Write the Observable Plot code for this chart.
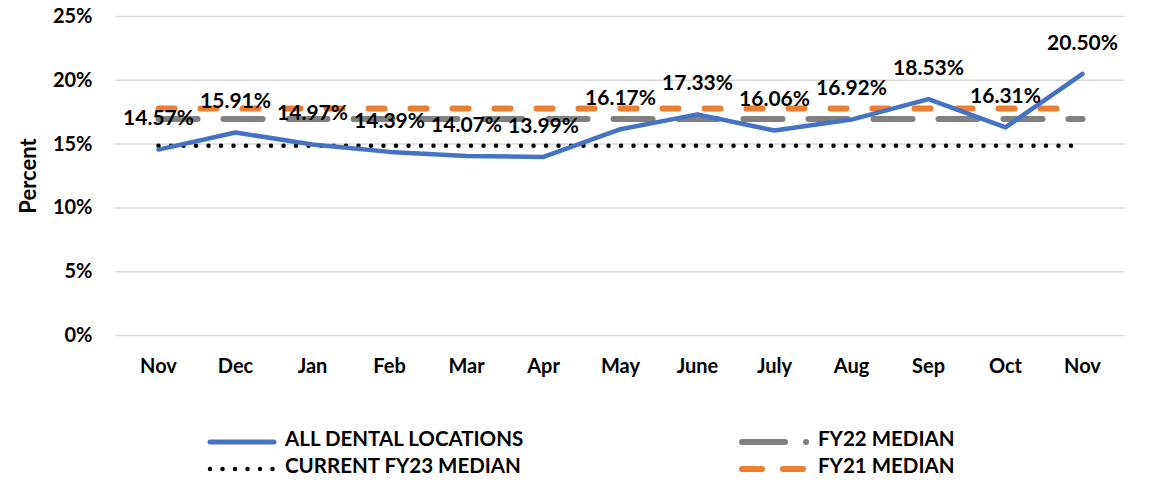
<!DOCTYPE html>
<html><head><meta charset="utf-8">
<script src="https://cdn.jsdelivr.net/npm/d3@7"></script>
<script src="https://cdn.jsdelivr.net/npm/@observablehq/plot@0.6"></script>
<style>
body{margin:0;background:#fff;font-family:Lato, sans-serif;}
#legend{position:relative;width:1158px;height:80px;}
.sample{position:absolute;}
.ltext{position:absolute;font-weight:700;font-size:20.5px;line-height:24px;color:#000;white-space:nowrap;}
</style></head><body>
<div id="chart"></div>
<div id="legend"></div>
<script>
const months = ["Nov","Dec","Jan","Feb","Mar","Apr","May","June","July","Aug","Sep","Oct","Nov"];
const allDental = [14.57, 15.91, 14.97, 14.39, 14.07, 13.99, 16.17, 17.33, 16.06, 16.92, 18.53, 16.31, 20.50];
const fy23Median = 14.87;
const fy22Median = 16.97;
const fy21Median = 17.79;
const yTicks = [0, 5, 10, 15, 20, 25];
const seriesNames = ["ALL DENTAL LOCATIONS", "CURRENT FY23 MEDIAN", "FY22 MEDIAN", "FY21 MEDIAN"];
const colors = {blue:"#4472C4", black:"#000000", gray:"#808080", orange:"#ED7D31"};

const idx = months.map((_, i) => i);
const data = allDental.map((v, i) => ({i, v}));
const medLine = m => [{i: 0, v: m}, {i: months.length - 1, v: m}];

const chart = Plot.plot({
  width: 1158, height: 400,
  marginTop: 16, marginBottom: 65, marginLeft: 115, marginRight: 34,
  style: {fontFamily: "Lato, sans-serif", fontWeight: 700, fontSize: "20px", color: "#000", background: "#fff", overflow: "visible"},
  x: {type: "point", domain: idx, padding: 0.5, axis: null},
  y: {domain: [0, 25], axis: null},
  marks: [
    Plot.gridY(yTicks, {stroke: "#d9d9d9", strokeWidth: 1.5, strokeOpacity: 1}),
    Plot.axisY({ticks: yTicks, tickSize: 0, tickPadding: 23, tickFormat: d => d + "%", label: null, fontSize: 20, fontWeight: 700}),
    Plot.axisX({ticks: idx, tickSize: 0, tickPadding: 23, tickFormat: i => months[i], label: null, fontSize: 20, fontWeight: 700}),
    Plot.text(["Percent"], {frameAnchor: "left", dx: -87, rotate: -90, fontSize: 22, fontWeight: 700, textAnchor: "middle", fill: "#000"}),
    Plot.lineY(medLine(fy23Median), {x: "i", y: "v", stroke: colors.black, strokeWidth: 4.5, strokeDasharray: "0,12.5", strokeLinecap: "round"}),
    Plot.lineY(medLine(fy22Median), {x: "i", y: "v", stroke: colors.gray, strokeWidth: 6, strokeDasharray: "39,26", strokeLinecap: "round"}),
    Plot.lineY(medLine(fy21Median), {x: "i", y: "v", stroke: colors.orange, strokeWidth: 6, strokeDasharray: "16,26", strokeLinecap: "round"}),
    Plot.lineY(data, {x: "i", y: "v", stroke: colors.blue, strokeWidth: 4.5, strokeLinejoin: "round", strokeLinecap: "round"}),
    Plot.text(data, {x: "i", y: "v", text: d => d.v.toFixed(2) + "%", dy: -31, fontSize: 21, fontWeight: 700, fill: "#000"})
  ]
});
document.getElementById("chart").appendChild(chart);

// Legend
const legend = document.getElementById("legend");
const items = [
  {name: seriesNames[0], left: 207, top: 38, svg: `<line x1="3" y1="6" x2="67" y2="6" stroke="${colors.blue}" stroke-width="5" stroke-linecap="round"/>`},
  {name: seriesNames[1], left: 207, top: 65, svg: `<line x1="3" y1="6" x2="67" y2="6" stroke="${colors.black}" stroke-width="4.5" stroke-dasharray="0,12.5" stroke-linecap="round"/>`},
  {name: seriesNames[2], left: 739, top: 38, svg: `<line x1="3" y1="6" x2="70" y2="6" stroke="${colors.gray}" stroke-width="6" stroke-dasharray="43,21,0,100" stroke-linecap="round"/>`},
  {name: seriesNames[3], left: 739, top: 65, svg: `<line x1="3" y1="6" x2="70" y2="6" stroke="${colors.orange}" stroke-width="6" stroke-dasharray="20,21" stroke-linecap="round"/>`}
];
items.forEach((it, k) => {
  const s = document.createElement("div");
  s.className = "sample";
  s.style.left = it.left + "px";
  s.style.top = (it.top - 6) + "px";
  s.innerHTML = `<svg width="74" height="12">${it.svg}</svg>`;
  legend.appendChild(s);
  const t = document.createElement("div");
  t.className = "ltext";
  t.style.left = (k < 2 ? 285 : 818) + "px";
  t.style.top = (it.top - 12) + "px";
  t.textContent = it.name;
  legend.appendChild(t);
});
</script>
</body></html>
